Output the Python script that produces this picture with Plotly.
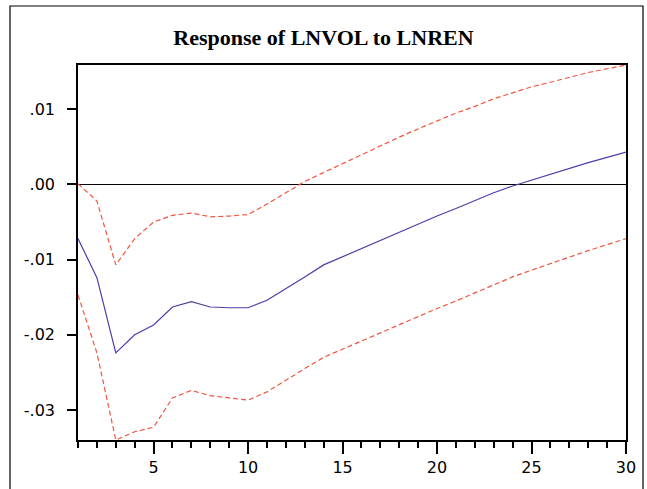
import plotly.graph_objects as go

periods = list(range(1, 31))
response = [-0.0072, -0.0124, -0.0224, -0.0200, -0.0187, -0.0163, -0.0156, -0.0163, -0.0164, -0.0164,
            -0.0154, -0.0139, -0.0123, -0.0107, -0.0096, -0.0085, -0.0074, -0.0063, -0.0052, -0.0042,
            -0.0032, -0.0021, -0.0011, -0.0002, 0.0006, 0.0014, 0.0022, 0.0029, 0.0036, 0.0043]
upper = [0.0001, -0.0022, -0.0107, -0.0072, -0.0050, -0.0041, -0.0038, -0.0043, -0.0042, -0.0040,
         -0.0026, -0.0011, 0.0004, 0.0016, 0.0028, 0.0040, 0.0051, 0.0063, 0.0074, 0.0085,
         0.0095, 0.0104, 0.0114, 0.0122, 0.0130, 0.0136, 0.0143, 0.0149, 0.0154, 0.0159]
lower = [-0.0147, -0.0224, -0.0340, -0.0329, -0.0323, -0.0284, -0.0274, -0.0281, -0.0284, -0.0287,
         -0.0276, -0.0260, -0.0245, -0.0230, -0.0219, -0.0208, -0.0198, -0.0187, -0.0176, -0.0165,
         -0.0155, -0.0144, -0.0133, -0.0123, -0.0114, -0.0105, -0.0096, -0.0088, -0.0080, -0.0072]
y_tickvals = [0.01, 0.0, -0.01, -0.02, -0.03]
y_ticktext = [".01", ".00", "-.01", "-.02", "-.03"]
title_text = "Response of LNVOL to LNREN"

red = "#f2553f"
blue = "#4a3fa8"

fig = go.Figure()
fig.add_trace(go.Scatter(x=periods, y=upper, mode="lines",
                         line=dict(color=red, width=1.2, dash="5px,3px"), showlegend=False))
fig.add_trace(go.Scatter(x=periods, y=lower, mode="lines",
                         line=dict(color=red, width=1.2, dash="5px,3px"), showlegend=False))
fig.add_trace(go.Scatter(x=periods, y=response, mode="lines",
                         line=dict(color=blue, width=1.2), showlegend=False))

ymin = min(lower)
ymax = max(upper)

fig.update_layout(
    width=647, height=489,
    margin=dict(l=78, r=21, t=65, b=49),
    paper_bgcolor="white", plot_bgcolor="white",
    title=dict(text="<b>" + title_text + "</b>", x=0.5, xanchor="center",
               y=1 - 37 / 489, yanchor="middle",
               font=dict(family="Liberation Serif", size=22, color="black")),
    xaxis=dict(range=[1, 30], tickmode="linear", tick0=0, dtick=5, ticks="outside", ticklen=12,
               tickcolor="#000000", tickwidth=1.5, showgrid=False, zeroline=False,
               showline=True, linecolor="black", linewidth=1.5, mirror=True,
               tickfont=dict(family="DejaVu Sans", size=16, color="black"),
               minor=dict(tickmode="linear", tick0=0, dtick=1, ticks="outside", ticklen=6,
                          tickcolor="#000000", tickwidth=1.5, showgrid=False)),
    yaxis=dict(range=[ymin, ymax], tickvals=y_tickvals, ticktext=y_ticktext,
               ticks="outside", ticklen=9, tickcolor="black", tickwidth=1.5,
               showgrid=False, zeroline=True, zerolinecolor="black", zerolinewidth=1,
               showline=True, linecolor="black", linewidth=1.5, mirror=True,
               ticklabelstandoff=9,
               tickfont=dict(family="DejaVu Sans", size=16, color="black")),
    shapes=[dict(type="rect", xref="paper", yref="paper",
                 x0=(10 - 78) / 548, x1=(643 - 78) / 548,
                 y0=-(500 - 440) / 375, y1=1 + (65 - 6) / 375,
                 line=dict(color="black", width=1.2), layer="below")],
)

fig.write_html("out.html")
